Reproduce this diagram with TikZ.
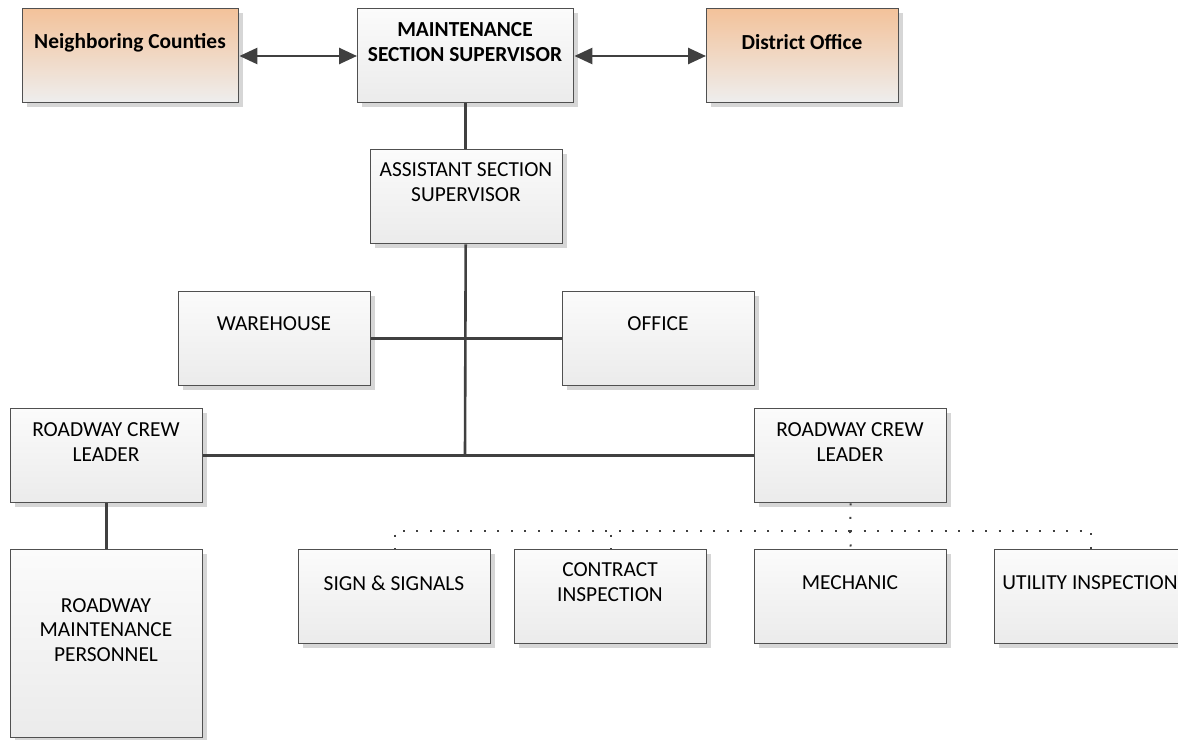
\documentclass[tikz,border=0pt]{standalone}
\usepackage{fontspec}
\setmainfont{Carlito}
\usetikzlibrary{arrows.meta,shadows}
\definecolor{linec}{HTML}{404040}
\definecolor{borderc}{HTML}{505050}
\definecolor{graytop}{HTML}{FBFBFB}
\definecolor{graybot}{HTML}{EBEBEB}
\definecolor{orangetop}{HTML}{F3C29A}
\definecolor{orangebot}{HTML}{EEEEEE}
\definecolor{shadowc}{HTML}{D6D6D6}
\tikzset{
  box/.style={draw=borderc, line width=1.4pt, top color=graytop, bottom color=graybot,
    general shadow={fill=shadowc, shadow xshift=4.5pt, shadow yshift=-4.5pt},
    minimum width=192pt, minimum height=94pt, inner sep=0pt, anchor=north west},
  obox/.style={box, top color=orangetop, bottom color=orangebot},
  txt/.style={align=center, font=\fontsize{21.4}{24.8}\selectfont, inner sep=0pt, text=black},
  btxt/.style={txt, font=\fontsize{21.4}{24.8}\selectfont\bfseries},
  conn/.style={draw=linec, line width=2.6pt},
  biarrow/.style={conn, {Triangle[length=18pt,width=16pt]}-{Triangle[length=18pt,width=16pt]}},
  dots/.style={draw=linec, line width=2pt, dash pattern=on 2pt off 11.5pt},
}
\begin{document}
\begin{tikzpicture}[x=1pt,y=-1pt]
\useasboundingbox (0,0) rectangle (1178,739);
\clip (0,0) rectangle (1178,739);
% top row
\node[obox, minimum width=216pt] (nc) at (22,8) {};
\node[box, minimum width=216pt] (ms) at (357,8) {};
\node[obox] (do) at (706,8) {};
\node[btxt] (nct) at (130,43) {Neighboring Counties};
\node[btxt] (mst) at (465,42) {MAINTENANCE\\SECTION SUPERVISOR};
\node[btxt] (dot) at (802,42) {District Office};
% assistant
\node[box] (as) at (370,149) {};
\node[txt] (ast) at (466,182) {ASSISTANT SECTION\\SUPERVISOR};
% warehouse / office
\node[box] (wh) at (178,291) {};
\node[box] (of) at (562,291) {};
\node[txt] (wht) at (274,324) {WAREHOUSE};
\node[txt] (oft) at (658,324) {OFFICE};
% crew leaders
\node[box] (cl) at (10,408) {};
\node[box] (cr) at (754,408) {};
\node[txt] (clt) at (106,442) {ROADWAY CREW\\LEADER};
\node[txt] (crt) at (850,442) {ROADWAY CREW\\LEADER};
% personnel
\node[box, minimum height=188pt] (pe) at (10,549) {};
\node[txt] (pet) at (106,630) {ROADWAY\\MAINTENANCE\\PERSONNEL};
% bottom row
\node[box] (ss) at (298,549) {};
\node[box] (ci) at (514,549) {};
\node[box] (me) at (754,549) {};
\node[box] (ui) at (994,549) {};
\node[txt] (sst) at (394,583) {SIGN \& SIGNALS};
\node[txt] (cit) at (610,582) {CONTRACT\\INSPECTION};
\node[txt] (met) at (850,583) {MECHANIC};
\node[txt] (uit) at (1090,583) {UTILITY INSPECTION};
% connectors
\draw[biarrow] (nc.east |- 0,56) -- (ms.west |- 0,56);
\draw[biarrow] (ms.east |- 0,56) -- (do.west |- 0,56);
\coordinate (j2) at (465,455);
\draw[conn] (ms.south) -- (ms.south |- as.north);
\draw[conn] (ms.south |- as.south) -- (j2);
\draw[conn] (wh.east) -- (of.west);
\draw[conn] (cl.east) -- (cr.west);
\draw[conn] (cl.south) -- (pe.north);
% dotted
\coordinate (d0) at (850,531);
\draw[dots] (cr.south) -- (d0);
\draw[dots] (d0) -| (ss.north);
\draw[dots] (d0) -| (ci.north);
\draw[dots] (d0) -- (me.north);
\draw[dots] (d0) -| (ui.north);
\end{tikzpicture}
\end{document}
